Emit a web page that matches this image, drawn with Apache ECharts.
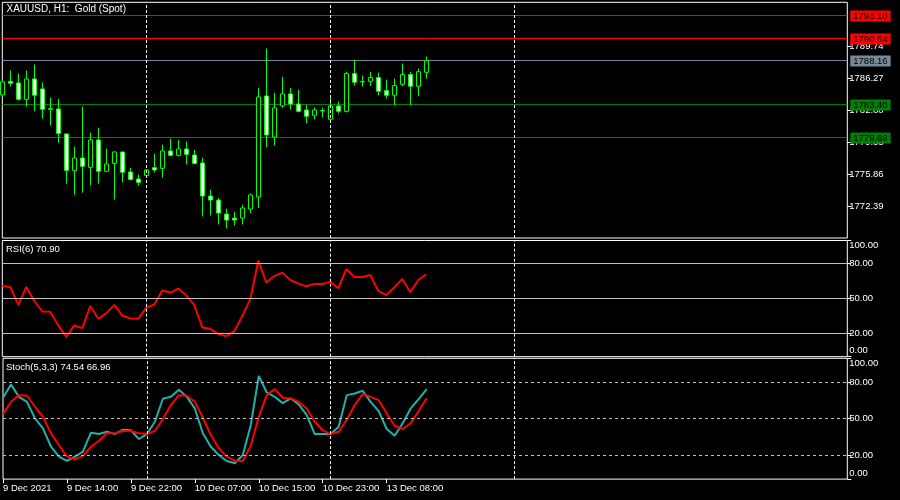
<!DOCTYPE html>
<html><head><meta charset="utf-8">
<script src="https://cdn.jsdelivr.net/npm/echarts@6/dist/echarts.min.js"></script>
<style>html,body{margin:0;padding:0;background:#000;}#c{width:900px;height:500px;}</style>
</head><body><div id="c"></div>
<script>
const timeLabels = ['9 Dec 2021','9 Dec 14:00','9 Dec 22:00','10 Dec 07:00','10 Dec 15:00','10 Dec 23:00','13 Dec 08:00'];
const timeLabelBars = [0, 8, 16, 24, 32, 40, 48];
const dayBreaks = [18, 41, 64];

const opens = [1784.47,1785.94,1785.77,1783.99,1786.20,1785.12,1782.98,1782.95,1780.24,1776.29,1777.64,1776.62,1779.59,1776.19,1777.05,1778.29,1776.12,1775.36,1775.75,1776.59,1776.51,1778.40,1777.92,1778.61,1777.96,1777.10,1773.52,1773.08,1771.56,1771.13,1771.13,1772.11,1773.41,1784.36,1779.91,1783.28,1784.58,1783.49,1782.84,1782.26,1782.77,1781.82,1783.28,1782.69,1786.78,1785.91,1785.94,1786.35,1784.94,1784.43,1785.62,1786.67,1785.40,1786.92];
const closes = [1785.88,1785.73,1783.99,1786.20,1784.43,1782.91,1782.91,1780.30,1776.29,1777.64,1776.73,1779.59,1776.19,1776.99,1778.29,1776.08,1775.32,1774.99,1776.34,1776.34,1778.40,1777.92,1778.61,1778.03,1777.05,1773.52,1773.08,1771.67,1770.91,1770.91,1772.22,1773.63,1784.25,1780.13,1783.06,1784.58,1783.49,1782.69,1782.15,1782.84,1782.73,1783.28,1782.69,1786.78,1785.84,1785.88,1786.35,1784.86,1784.43,1785.48,1786.67,1785.40,1786.98,1788.16];
const lows = [1784.29,1785.40,1783.85,1783.20,1782.69,1781.90,1781.14,1779.30,1774.85,1773.66,1773.88,1774.67,1774.85,1776.15,1773.12,1774.99,1775.21,1774.63,1775.47,1776.08,1775.53,1777.81,1777.81,1776.94,1776.94,1771.30,1771.41,1770.44,1770.00,1770.33,1770.44,1771.67,1772.22,1778.79,1779.01,1783.06,1782.91,1782.58,1781.39,1781.82,1782.01,1781.76,1782.47,1782.58,1785.51,1785.37,1785.45,1784.43,1784.07,1783.34,1785.40,1783.34,1784.32,1786.24];
const highs = [1786.13,1787.11,1786.78,1787.11,1787.76,1785.84,1784.18,1784.04,1780.27,1778.86,1783.20,1780.38,1780.92,1778.65,1778.32,1778.32,1776.55,1775.83,1776.37,1778.10,1779.08,1779.73,1779.62,1779.41,1778.51,1777.67,1774.20,1773.30,1772.14,1771.81,1772.57,1773.77,1785.23,1789.49,1784.69,1786.42,1785.23,1785.04,1783.39,1783.09,1783.09,1784.39,1783.74,1786.98,1788.27,1786.56,1786.98,1786.89,1786.13,1786.24,1787.86,1786.98,1787.32,1788.62];

const rsi = [60.9,60.0,44.6,60.0,48.0,38.9,38.6,26.9,17.1,26.9,24.6,43.7,32.6,37.5,44.6,35.5,32.9,32.6,42.3,44.9,56.9,55.2,58.6,52.6,44.3,25.2,24.0,19.5,17.7,21.8,35.1,49.5,82.6,63.8,69.4,72.3,66.0,62.9,60.6,62.6,62.6,64.6,58.9,75.4,68.6,68.6,70.3,56.6,52.9,59.7,66.9,55.5,66.0,70.9];
const stochMain = [67.3,78.3,68.1,64.0,50.3,42.0,26.8,18.6,15.0,18.6,22.7,38.4,37.3,39.2,37.3,40.9,40.4,33.2,37.3,47.5,66.5,68.1,73.9,68.1,58.5,37.9,26.8,20.0,15.0,13.1,20.0,44.8,85.5,71.7,68.1,62.9,66.8,61.8,53.0,37.3,37.3,37.3,43.4,69.5,70.9,73.1,64.0,56.3,41.5,35.9,46.2,58.5,66.2,74.54];
const stochSignal = [53.6,64.0,69.5,69.0,59.9,51.6,37.9,28.2,18.6,16.4,19.2,26.8,31.8,37.9,37.9,39.8,39.8,37.9,37.6,39.8,49.7,61.3,69.5,69.0,64.0,50.8,36.5,25.5,18.6,15.0,15.0,27.7,51.6,69.5,74.5,67.3,66.8,64.0,58.5,47.5,40.4,37.3,39.2,48.9,61.3,70.4,68.1,65.4,54.4,44.2,41.5,46.2,56.3,66.96];

const priceTicks = [1772.39, 1775.86, 1779.33, 1782.80, 1786.27, 1789.74];
const priceLevels = [1793.10, 1790.54, 1788.16, 1783.40, 1779.89];
const levelColors = ['#ff0000', '#ff0000', '#778899', '#008000', '#008000'];
const oscLevels = [20, 50, 80];
const oscTicks = [0, 20, 50, 80, 100];

const FONT = 'Liberation Sans';
const chart = echarts.init(document.getElementById('c'), null, {renderer: 'canvas'});

const X_MIN = 0, X_MAX = 845 / 8;

function xAxisFor(idx, show) {
  return {
    type: 'value', gridIndex: idx, min: X_MIN, max: X_MAX,
    splitLine: {show: false}, axisLine: {show: false, onZero: false},
    axisTick: {show: show, customValues: timeLabelBars, length: 4, lineStyle: {color: '#fff'}},
    axisLabel: {show: show, customValues: timeLabelBars, color: '#fff', fontFamily: FONT, fontSize: 9.5,
      align: 'left', margin: 4, formatter: v => { const i = timeLabelBars.indexOf(Math.round(v)); return i >= 0 ? timeLabels[i] : ''; }}
  };
}
function oscY(idx, labelVals) {
  return {
    type: 'value', gridIndex: idx, position: 'right', min: 0, max: 100,
    splitLine: {show: false}, axisLine: {show: false, onZero: false},
    axisTick: {show: true, customValues: oscTicks, length: 4, lineStyle: {color: '#fff'}},
    axisLabel: {customValues: labelVals, color: '#fff', fontFamily: FONT, fontSize: 9.5, margin: 2,
      formatter: v => v > 90 ? '100.00' : (v < 10 ? '0.00' : v.toFixed(2))}
  };
}
function crisp(v) { return Math.floor(v) + 0.5; }

const levelSeries = {
  type: 'custom', xAxisIndex: 0, yAxisIndex: 0, z: 1, silent: true, clip: false,
  data: priceLevels.map((p, i) => [X_MIN, p, i]),
  encode: {x: 0, y: 1},
  renderItem: (params, api) => {
    const p = api.value(1);
    const col = levelColors[api.value(2)];
    const cs = params.coordSys;
    const y = crisp(api.coord([X_MIN, p])[1]);
    return {
      type: 'group',
      children: [
        {type: 'line', shape: {x1: cs.x, y1: y, x2: cs.x + cs.width, y2: y}, style: {stroke: col, lineWidth: 1}},
        {type: 'text', x: cs.x + cs.width + 3, y: y + 0.5,
          style: {text: p.toFixed(2), fill: '#000', backgroundColor: col, padding: [1, 3, 0, 3],
            font: '9.5px "Liberation Sans"', align: 'left', verticalAlign: 'middle'}}
      ]
    };
  }
};
function gridLineSeries(gi, levels, dashed) {
  return {
    type: 'line', xAxisIndex: gi, yAxisIndex: gi, data: [], z: 1,
    markLine: {
      silent: true, symbol: ['none', 'none'], animation: false,
      lineStyle: {color: '#c0c0c0', type: dashed ? [3, 3] : 'solid', width: 1, opacity: 1},
      label: {show: false},
      data: levels.map(v => ({yAxis: v}))
    }
  };
}
function dayBreakSeries(gi) {
  return {
    type: 'line', xAxisIndex: gi, yAxisIndex: gi, data: [], z: 1,
    markLine: {
      silent: true, symbol: ['none', 'none'], animation: false,
      lineStyle: {color: '#ffffff', type: [3, 2], width: 1, opacity: 1},
      label: {show: false},
      data: dayBreaks.map(v => ({xAxis: v}))
    }
  };
}

const option = {
  backgroundColor: '#000',
  animation: false,
  title: [
    {text: 'XAUUSD, H1:  Gold (Spot)', left: 6.5, top: 4, padding: 0, textStyle: {color: '#fff', fontFamily: FONT, fontSize: 10, fontWeight: 'normal'}},
    {text: 'RSI(6) 70.90', left: 6, top: 244.5, padding: 0, textStyle: {color: '#fff', fontFamily: FONT, fontSize: 9.5, fontWeight: 'normal'}},
    {text: 'Stoch(5,3,3) 74.54 66.96', left: 6, top: 362.5, padding: 0, textStyle: {color: '#fff', fontFamily: FONT, fontSize: 9.5, fontWeight: 'normal'}}
  ],
  grid: [
    {left: 2.3, right: 52.7, top: 2.3, height: 235.7, show: true, borderColor: '#fff', borderWidth: 1, backgroundColor: 'transparent'},
    {left: 2.3, right: 52.7, top: 240.5, height: 116.2, show: true, borderColor: '#fff', borderWidth: 1, backgroundColor: 'transparent'},
    {left: 2.3, right: 52.7, top: 358.3, height: 120.8, show: true, borderColor: '#fff', borderWidth: 1, backgroundColor: 'transparent'}
  ],
  xAxis: [xAxisFor(0, false), xAxisFor(1, false), xAxisFor(2, true)],
  yAxis: [
    {type: 'value', gridIndex: 0, position: 'right', min: 1768.97, max: 1794.50,
      splitLine: {show: false}, axisLine: {show: false, onZero: false},
      axisTick: {show: true, customValues: priceTicks, length: 4, lineStyle: {color: '#fff'}},
      axisLabel: {customValues: priceTicks, color: '#fff', fontFamily: FONT, fontSize: 9.5, margin: 2, formatter: v => v.toFixed(2)}},
    oscY(1, [5.1, 20, 50, 80, 95.5]),
    oscY(2, [4.9, 20, 50, 80, 96])
  ],
  series: [
    dayBreakSeries(0),
    levelSeries,
    {
      type: 'candlestick', xAxisIndex: 0, yAxisIndex: 0, barWidth: 4, clip: true, z: 3,
      data: opens.map((o, i) => [i, o, closes[i], lows[i], highs[i]]),
      itemStyle: {color: '#000000', color0: '#ffffff', borderColor: '#00ff00', borderColor0: '#00ff00', borderColorDoji: '#00ff00', borderWidth: 1}
    },
    gridLineSeries(1, oscLevels, false),
    dayBreakSeries(1),
    {
      type: 'line', xAxisIndex: 1, yAxisIndex: 1, showSymbol: false, clip: true, z: 3,
      data: rsi.map((v, i) => [i, v]),
      lineStyle: {color: '#ff0000', width: 2}
    },
    gridLineSeries(2, oscLevels, true),
    dayBreakSeries(2),
    {
      type: 'line', xAxisIndex: 2, yAxisIndex: 2, showSymbol: false, clip: true, z: 3,
      data: stochMain.map((v, i) => [i, v]),
      lineStyle: {color: '#20b2aa', width: 2}
    },
    {
      type: 'line', xAxisIndex: 2, yAxisIndex: 2, showSymbol: false, clip: true, z: 4,
      data: stochSignal.map((v, i) => [i, v]),
      lineStyle: {color: '#ff0000', width: 2}
    }
  ]
};
chart.setOption(option);
</script></body></html>
